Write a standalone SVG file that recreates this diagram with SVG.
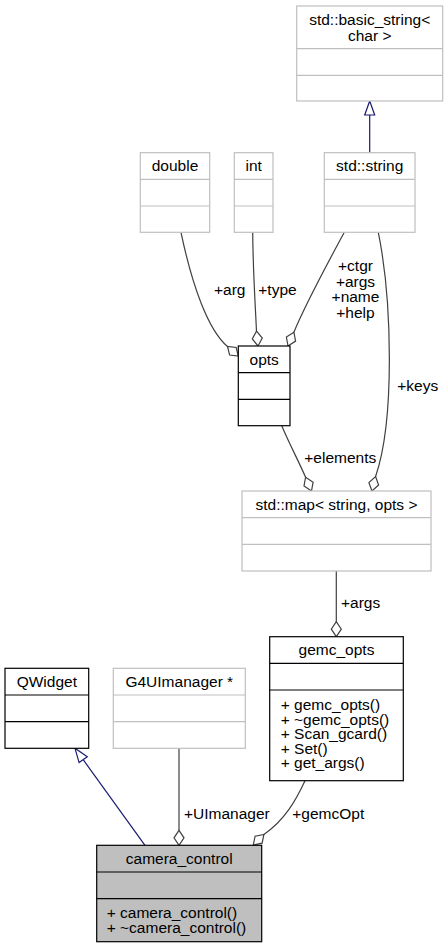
<svg xmlns="http://www.w3.org/2000/svg" width="448" height="948" viewBox="0 0 448 948">
<style>
text{font-family:"Liberation Sans",Arial,Helvetica,sans-serif;font-size:15.5px;fill:#000}
.c{text-anchor:middle}
.box{fill:#fff;stroke:#000;stroke-width:1.2}
.gbox{fill:#fff;stroke:#bfbfbf;stroke-width:1.2}
.sel{fill:#bfbfbf;stroke:#000;stroke-width:1.2}
.dv{stroke:#000;stroke-width:1.2}
.gdv{stroke:#bfbfbf;stroke-width:1.2}
.inh{fill:none;stroke:#191970;stroke-width:1.2}
.inhh{fill:#fff;stroke:#191970;stroke-width:1.2}
.use{fill:none;stroke:#404040;stroke-width:1.2}
.useh{fill:#fff;stroke:#404040;stroke-width:1.2}
</style>
<rect width="448" height="948" fill="#fff"/>
<g id="connectors">
  <path class="inh" d="M369.7,152.7 V115"/>
  <polygon class="inhh" points="369.7,101 364.7,115 374.7,115"/>
  <path class="inh" d="M145,845.3 L83.2,759.7"/>
  <polygon class="inhh" points="75,748.3 79.1,762.6 87.3,756.8"/>
  <path class="use" d="M181,232.3 C192,285 208,330 227.5,346.5"/>
  <polygon class="useh" points="238.3,356 236.2,347.5 227.5,346.5 229.6,355"/>
  <path class="use" d="M252.7,232.3 C253,270 255,300 256.5,331.1"/>
  <polygon class="useh" points="258,346 252.3,338.9 256.5,331.1 262.3,338.1"/>
  <path class="use" d="M344.3,232.3 C332,255 305,305 293.9,332.2"/>
  <polygon class="useh" points="288,346 286.4,337.1 293.9,332.2 295.6,341.1"/>
  <path class="use" d="M378.3,232.3 C392,300 395,420 375.6,476.5"/>
  <polygon class="useh" points="372,491 368.9,482.6 375.6,476.5 378.6,485"/>
  <path class="use" d="M281.7,425.7 C290,445 298,460 305.6,477.2"/>
  <polygon class="useh" points="311.5,491 304,486.0 305.6,477.2 313.1,482.2"/>
  <path class="use" d="M336.3,571 V621.7"/>
  <polygon class="useh" points="336.3,636.7 331.3,629.2 336.3,621.7 341.3,629.2"/>
  <path class="use" d="M179,748.3 V830.3"/>
  <polygon class="useh" points="179,845.3 174,837.8 179,830.3 184,837.8"/>
  <path class="use" d="M305,780.7 C296,800 285,820 263.9,834.4"/>
  <polygon class="useh" points="253.3,845 255.1,836.2 263.9,834.4 262.1,843.2"/>
  <text x="229.7" y="295" class="c">+arg</text>
  <text x="277.5" y="295" class="c">+type</text>
  <text x="355.5" y="271" class="c">+ctgr</text>
  <text x="355.5" y="286.5" class="c">+args</text>
  <text x="355.5" y="302" class="c">+name</text>
  <text x="355.5" y="317.5" class="c">+help</text>
  <text x="397.3" y="390.7">+keys</text>
  <text x="340.3" y="463.3" class="c">+elements</text>
  <text x="341" y="608.3">+args</text>
  <text x="184" y="819.3">+UImanager</text>
  <text x="292.3" y="819">+gemcOpt</text>
</g>
<g id="basic_string">
  <rect class="gbox" x="296.7" y="6" width="146" height="95"/>
  <path class="gdv" d="M296.7,48.7 H442.7 M296.7,75.3 H442.7"/>
  <text x="369.7" y="25" class="c">std::basic_string&lt;</text>
  <text x="369.7" y="40.5" class="c">char &gt;</text>
</g>
<g id="double">
  <rect class="gbox" x="140.3" y="152.7" width="69.4" height="79.6"/>
  <path class="gdv" d="M140.3,179.3 H209.7 M140.3,206 H209.7"/>
  <text x="175" y="171" class="c">double</text>
</g>
<g id="int">
  <rect class="gbox" x="234.3" y="152.7" width="38.7" height="79.6"/>
  <path class="gdv" d="M234.3,179.3 H273 M234.3,206 H273"/>
  <text x="253.7" y="171" class="c">int</text>
</g>
<g id="std_string">
  <rect class="gbox" x="324.3" y="152.7" width="90.7" height="79.6"/>
  <path class="gdv" d="M324.3,179.3 H415 M324.3,206 H415"/>
  <text x="369.7" y="171" class="c">std::string</text>
</g>
<g id="opts">
  <rect class="box" x="238.3" y="346" width="51.7" height="79.7"/>
  <path class="dv" d="M238.3,372.7 H290 M238.3,399.3 H290"/>
  <text x="264.2" y="364.5" class="c">opts</text>
</g>
<g id="std_map">
  <rect class="gbox" x="242" y="491" width="189" height="80"/>
  <path class="gdv" d="M242,517.7 H431 M242,544.3 H431"/>
  <text x="336.5" y="509.5" class="c">std::map&lt; string, opts &gt;</text>
</g>
<g id="gemc_opts">
  <rect class="box" x="269.7" y="636.7" width="133.6" height="144"/>
  <path class="dv" d="M269.7,663.3 H403.3 M269.7,690 H403.3"/>
  <text x="336.5" y="655.2" class="c">gemc_opts</text>
  <text x="280.7" y="710">+ gemc_opts()</text>
  <text x="280.7" y="724.6">+ ~gemc_opts()</text>
  <text x="280.7" y="739.2">+ Scan_gcard()</text>
  <text x="280.7" y="753.8">+ Set()</text>
  <text x="280.7" y="768.4">+ get_args()</text>
</g>
<g id="QWidget">
  <rect class="box" x="5" y="668.3" width="83.7" height="80"/>
  <path class="dv" d="M5,695 H88.7 M5,721.7 H88.7"/>
  <text x="46.8" y="686.8" class="c">QWidget</text>
</g>
<g id="G4UImanager">
  <rect class="gbox" x="113.3" y="668.3" width="132" height="80"/>
  <path class="gdv" d="M113.3,695 H245.3 M113.3,721.7 H245.3"/>
  <text x="179.3" y="686.8" class="c">G4UImanager *</text>
</g>
<g id="camera_control">
  <rect class="sel" x="96.7" y="845.3" width="165" height="96.4"/>
  <path class="dv" d="M96.7,872 H261.7 M96.7,898.7 H261.7"/>
  <text x="179.2" y="864" class="c">camera_control</text>
  <text x="106.7" y="918.3">+ camera_control()</text>
  <text x="106.7" y="933">+ ~camera_control()</text>
</g>
</svg>
